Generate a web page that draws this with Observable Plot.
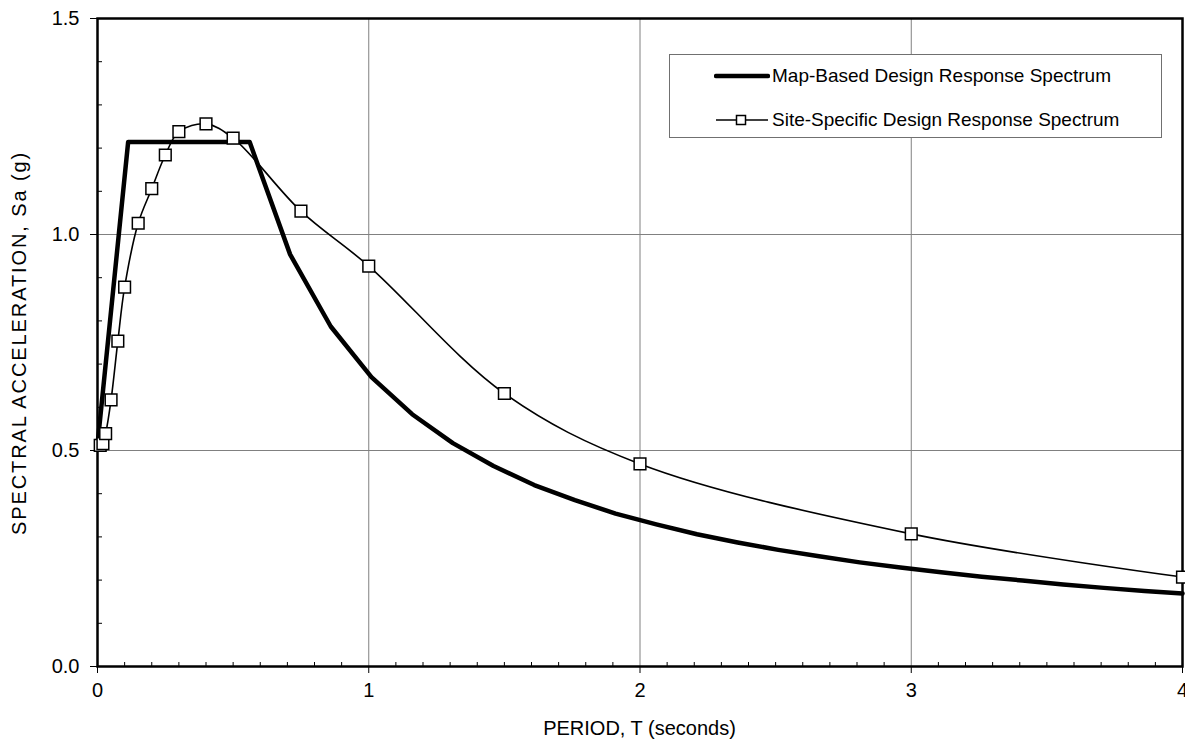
<!DOCTYPE html>
<html>
<head>
<meta charset="utf-8">
<script src="https://cdn.jsdelivr.net/npm/d3@7"></script>
<script src="https://cdn.jsdelivr.net/npm/@observablehq/plot@0.6"></script>
<style>
  html, body { margin: 0; padding: 0; background: #fff; }
  #wrap { position: relative; width: 1185px; height: 744px; font-family: "Liberation Sans", Arial, sans-serif; }
  #legend { position: absolute; left: 669px; top: 54px; width: 493px; height: 84px; border: 1px solid #707070; background: #fff; box-sizing: border-box; }
  .lrow { position: absolute; left: 44px; display: flex; align-items: center; font-size: 19px; color: #000; white-space: nowrap; }
  .lrow svg { margin-right: 2px; }
  #xtitle { position: absolute; left: 97px; width: 1085px; top: 716px; text-align: center; font-size: 20px; line-height: 24px; }
  #ytitle { position: absolute; left: 19px; top: 343px; transform: translate(-50%, -50%) rotate(-90deg); font-size: 20px; line-height: 24px; letter-spacing: 1.9px; white-space: nowrap; }
</style>
</head>
<body>
<div id="wrap">
  <div id="chart"></div>
  <div id="legend">
    <div class="lrow" style="top: 8px;">
      <svg width="56" height="26"><line x1="2" y1="13" x2="54" y2="13" stroke="#000" stroke-width="4.5" stroke-linecap="round"/></svg>
      <span>Map-Based Design Response Spectrum</span>
    </div>
    <div class="lrow" style="top: 52px;">
      <svg width="56" height="26"><line x1="2" y1="13" x2="54" y2="13" stroke="#000" stroke-width="1.6"/><rect x="22.5" y="8.5" width="9" height="9" fill="#fff" stroke="#000" stroke-width="1.5"/></svg>
      <span>Site-Specific Design Response Spectrum</span>
    </div>
  </div>
  <div id="xtitle">PERIOD, T (seconds)</div>
  <div id="ytitle">SPECTRAL ACCELERATION, Sa (g)</div>
</div>
<script>
// Map-based design response spectrum (period T in s, Sa in g)
const mapT  = [0, 0.113, 0.561, 0.71, 0.86, 1.01, 1.16, 1.31, 1.46, 1.61, 1.76, 1.91, 2.06, 2.21, 2.36, 2.51, 2.66, 2.81, 2.96, 3.11, 3.26, 3.41, 3.56, 3.71, 3.86, 4.0];
const mapSa = [0.513, 1.214, 1.214, 0.954, 0.787, 0.670, 0.584, 0.517, 0.464, 0.420, 0.385, 0.354, 0.329, 0.306, 0.287, 0.270, 0.255, 0.241, 0.229, 0.218, 0.208, 0.199, 0.190, 0.182, 0.175, 0.169];

// Site-specific design response spectrum
const siteT  = [0.01, 0.02, 0.03, 0.05, 0.075, 0.1, 0.15, 0.2, 0.25, 0.3, 0.4, 0.5, 0.75, 1.0, 1.5, 2.0, 3.0, 4.0];
const siteSa = [0.512, 0.516, 0.539, 0.617, 0.753, 0.878, 1.026, 1.106, 1.184, 1.238, 1.256, 1.223, 1.054, 0.927, 0.632, 0.469, 0.307, 0.207];

// Ticks
const xMajor = [0, 1, 2, 3, 4];
const yMajor = [0, 0.5, 1.0, 1.5];
const xMinor = d3.range(1, 40).map(i => i / 10).filter(v => !xMajor.includes(v));
const yMinor = d3.range(1, 15).map(i => i / 10).filter(v => !yMajor.some(m => Math.abs(m - v) < 1e-9));

const mapData = mapT.map((t, i) => ({T: t, Sa: mapSa[i]}));
const siteData = siteT.map((t, i) => ({T: t, Sa: siteSa[i]}));

const W = 1185, H = 744, mL = 97, mR = 3, mT = 18, mB = 78;

const chart = Plot.plot({
  width: W,
  height: H,
  marginLeft: mL,
  marginRight: mR,
  marginTop: mT,
  marginBottom: mB,
  style: {fontFamily: "Liberation Sans, Arial, sans-serif", fontSize: "20px", color: "#000", background: "#fff", overflow: "visible"},
  x: {domain: [0, 4]},
  y: {domain: [0, 1.5]},
  marks: [
    Plot.gridX([1, 2, 3], {stroke: "#808080", strokeOpacity: 1, strokeWidth: 1}),
    Plot.gridY([0.5, 1.0], {stroke: "#808080", strokeOpacity: 1, strokeWidth: 1}),
    Plot.tickX(xMinor, {x: d => d, stroke: "#000", strokeWidth: 1, insetTop: (H - mT - mB) - 4}),
    Plot.tickY(yMinor, {y: d => d, stroke: "#000", strokeWidth: 1, insetRight: (W - mL - mR) - 5}),
    Plot.axisX(xMajor, {tickSize: 7, tickPadding: 9, label: null, fontSize: 20, tickFormat: d => String(d), stroke: "#000", fill: "#000"}),
    Plot.axisY(yMajor, {tickSize: 7, tickPadding: 11, label: null, fontSize: 20, tickFormat: d3.format(".1f"), stroke: "#000", fill: "#000"}),
    Plot.frame({stroke: "#000", strokeWidth: 2.5}),
    Plot.line(mapData, {x: "T", y: "Sa", stroke: "#000", strokeWidth: 4.5, strokeLinejoin: "round"}),
    Plot.line(siteData, {x: "T", y: "Sa", stroke: "#000", strokeWidth: 1.6, curve: "catmull-rom"}),
    Plot.dot(siteData, {x: "T", y: "Sa", symbol: "square", r: 6.6, fill: "#fff", stroke: "#000", strokeWidth: 1.5})
  ]
});
document.getElementById("chart").appendChild(chart);
</script>
</body>
</html>
